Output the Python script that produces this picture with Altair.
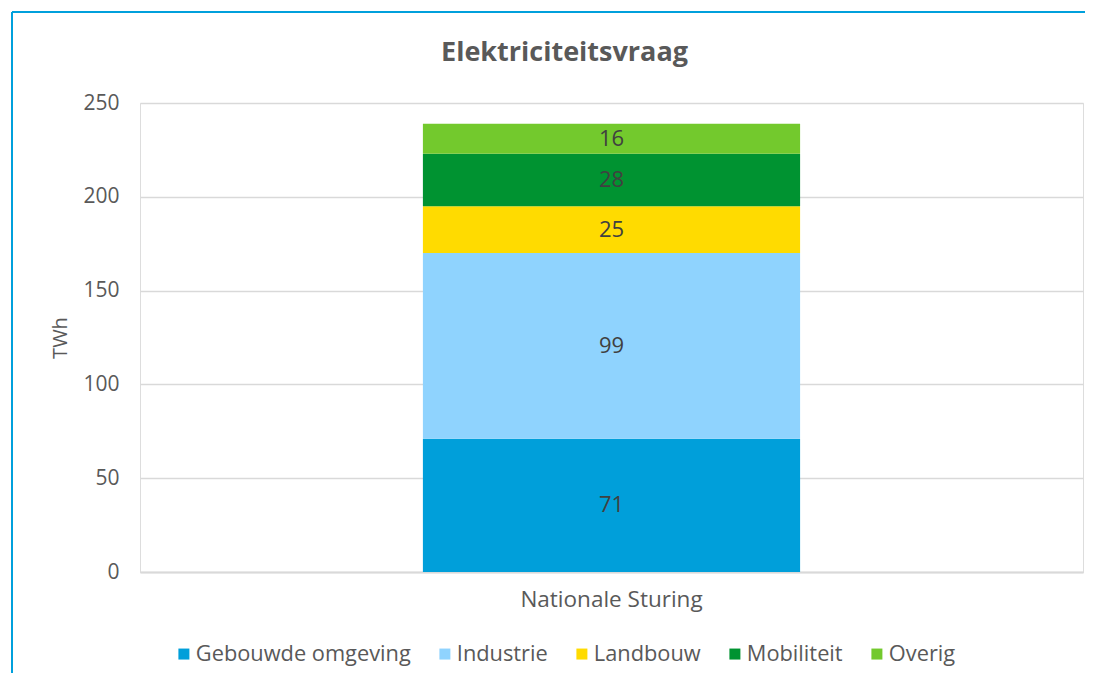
import altair as alt
import pandas as pd

categories = ["Gebouwde omgeving", "Industrie", "Landbouw", "Mobiliteit", "Overig"]
values = [71, 99, 25, 28, 16]
scenario = ["Nationale Sturing"] * 5
colors = ["#009fda", "#8fd3fe", "#ffdb00", "#009331", "#73c92d"]
y_ticks = [0, 50, 100, 150, 200, 250]

df = pd.DataFrame({
    "scenario": scenario,
    "sector": categories,
    "value": values,
    "idx": list(range(len(categories))),
})

FONT = "Open Sans"
GREY = "#595959"
y_scale = alt.Scale(domain=[0, 250], nice=False)

base = alt.Chart(df)

bars = base.mark_bar().encode(
    x=alt.X("scenario:N", title=None,
            scale=alt.Scale(paddingInner=0, paddingOuter=0.75),
            axis=alt.Axis(labelAngle=0, ticks=False, domain=True, domainColor="#d9d9d9",
                          domainWidth=2, labelPadding=16, labelFontSize=22.5,
                          labelLimit=400,
                          labelColor=GREY, labelFont=FONT)),
    y=alt.Y("value:Q", title="TWh", stack="zero", scale=y_scale,
            axis=alt.Axis(values=y_ticks, ticks=False, domain=False,
                          grid=True, gridColor="#d9d9d9", gridWidth=1.5,
                          labelPadding=21, labelFontSize=21, labelColor=GREY, labelFont=FONT,
                          titleFontSize=20, titleColor=GREY, titleFont=FONT,
                          titleFontWeight="normal", titlePadding=12)),
    color=alt.Color("sector:N", sort=categories,
                    scale=alt.Scale(domain=categories, range=colors),
                    legend=alt.Legend(title=None, orient="none", direction="horizontal",
                                      legendX=33, legendY=540,
                                      symbolType="square", symbolSize=121,
                                      symbolStrokeWidth=0, labelFontSize=21.8,
                                      labelLimit=400,
                                      labelColor=GREY, labelFont=FONT, labelOffset=1,
                                      columnPadding=23)),
    order=alt.Order("idx:Q", sort="ascending"),
)

labels = base.transform_stack(
    stack="value", groupby=["scenario"], as_=["y0", "y1"],
    sort=[alt.SortField("idx", order="ascending")]
).transform_calculate(
    mid="(datum.y0 + datum.y1) / 2"
).mark_text(font=FONT, fontSize=22, color="#404040", baseline="middle").encode(
    x=alt.X("scenario:N"),
    y=alt.Y("mid:Q", scale=y_scale),
    text=alt.Text("value:Q"),
)

frame_df = pd.DataFrame({"a": [0]})
left_line = alt.Chart(frame_df).mark_rule(color="#00a0dc", strokeWidth=2).encode(
    x=alt.value(-128), y=alt.value(-91), y2=alt.value(570))
top_line = alt.Chart(frame_df).mark_rule(color="#00a0dc", strokeWidth=2).encode(
    x=alt.value(-128), x2=alt.value(945), y=alt.value(-91))

chart = alt.layer(bars, labels, left_line, top_line).properties(
    width=943,
    height=469,
    title=alt.TitleParams("Elektriciteitsvraag", font=FONT, fontSize=27,
                          fontWeight="bold", color=GREY, offset=-56, dx=-47),
    padding={"left": 3, "top": 3, "right": 0, "bottom": 0},
).configure_view(
    stroke="#d9d9d9", strokeWidth=1.5
).configure(background="white")

chart.save("out.html", embed_options={"renderer": "svg", "actions": False})
